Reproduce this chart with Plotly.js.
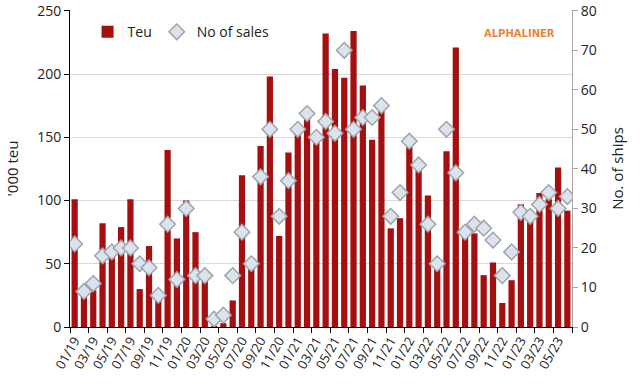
<!DOCTYPE html>
<html><head><meta charset="utf-8">
<script src="https://cdn.plot.ly/plotly-3.0.1.min.js"></script>
<style>html,body{margin:0;padding:0;background:#fff}#chart{width:640px;height:387px}</style>
</head><body><div id="chart"></div>
<script>
const months = ["01/19","02/19","03/19","04/19","05/19","06/19","07/19","08/19","09/19","10/19","11/19","12/19",
"01/20","02/20","03/20","04/20","05/20","06/20","07/20","08/20","09/20","10/20","11/20","12/20",
"01/21","02/21","03/21","04/21","05/21","06/21","07/21","08/21","09/21","10/21","11/21","12/21",
"01/22","02/22","03/22","04/22","05/22","06/22","07/22","08/22","09/22","10/22","11/22","12/22",
"01/23","02/23","03/23","04/23","05/23","06/23"];
const teu = [101,26,29,82,61,79,101,30,64,22,140,70,
100,75,45,1,3,21,120,48,143,198,72,138,
157,167,150,232,204,197,234,191,148,171,78,86,
144,124,104,48,139,221,77,74,41,51,19,37,
97,83,106,101,126,92];
const sales = [21,9,11,18,19,20,20,16,15,8,26,12,
30,13,13,2,3,13,24,16,38,50,28,37,
50,54,48,52,49,70,50,53,53,56,28,34,
47,41,26,16,50,39,24,26,25,22,13,19,
29,28,31,34,30,33];
const leftTicks = [0,50,100,150,200,250];
const rightTicks = [0,10,20,30,40,50,60,70,80];

const traces = [
  {type:'bar', x:months, y:teu, name:'Teu', marker:{color:'#A50F0F'}, yaxis:'y'},
  {type:'scatter', mode:'markers', x:months, y:sales, name:'No of sales', yaxis:'y2',
   marker:{symbol:'diamond', size:12, color:'#DDE3EC', line:{color:'#9EA4AC', width:1.5}}}
];
const font = "Open Sans, Liberation Sans, sans-serif";
const layout = {
  width:640, height:387,
  margin:{l:70, r:68, t:10, b:60},
  paper_bgcolor:'#fff', plot_bgcolor:'#fff',
  font:{family:font, size:13, color:'#222'},
  bargap:0.33,
  showlegend:true,
  legend:{orientation:'h', x:0.035, y:0.93, xanchor:'left', yanchor:'middle', bgcolor:'rgba(0,0,0,0)', font:{size:14}, itemwidth:30},
  xaxis:{type:'category', range:[-0.5,53.5], dtick:2, tickangle:-60, tickson:'boundaries', ticks:'outside', ticklen:5,
    tickcolor:'#000', showline:true, linecolor:'#000', linewidth:1, showgrid:false, tickfont:{size:13}},
  yaxis:{range:[0,250.6], tickmode:'array', tickvals:leftTicks, showline:true, linecolor:'#000', ticks:'outside', ticklen:5, tickcolor:'#000',
    gridcolor:'#D9D9D9', zeroline:false, tickfont:{size:14},
    title:{text:"'000 teu", font:{size:15}, standoff:14}},
  yaxis2:{range:[0,80.19], tickmode:'array', tickvals:rightTicks, overlaying:'y', side:'right', showline:true, linecolor:'#A6A6A6', ticks:'outside',
    ticklen:5, tickcolor:'#A6A6A6', showgrid:false, zeroline:false, tickfont:{size:14},
    title:{text:'No. of ships', font:{size:15}, standoff:16}},
  annotations:[{text:'<b>ALPHALINER</b>', xref:'paper', yref:'paper', x:0.97, y:0.925, xanchor:'right', yanchor:'middle',
    showarrow:false, font:{family:'DejaVu Sans, sans-serif', size:10, color:'#E8873A'}}]
};
Plotly.newPlot('chart', traces, layout, {displayModeBar:false, staticPlot:true});
</script></body></html>
